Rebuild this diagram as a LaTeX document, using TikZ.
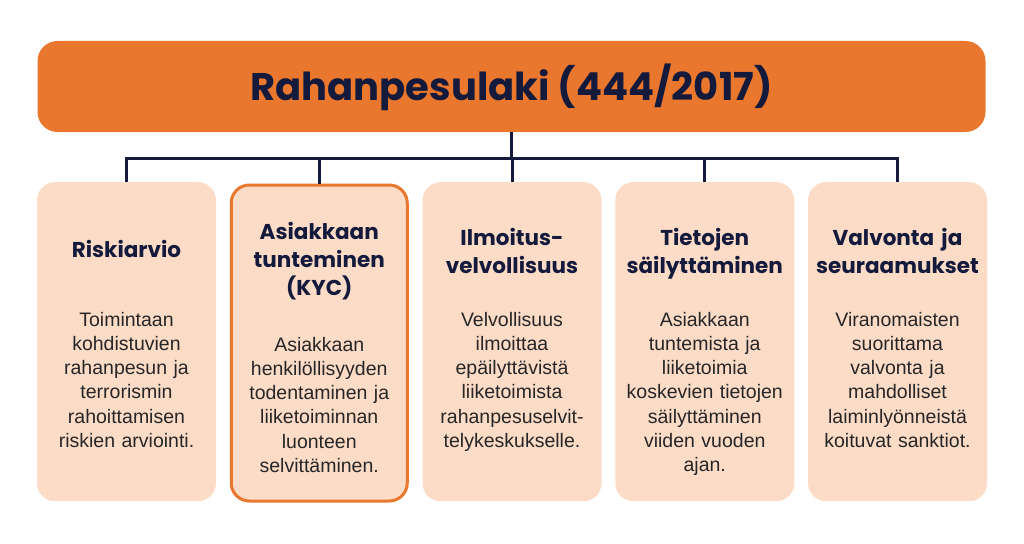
\documentclass[tikz,border=0pt]{standalone}
\usepackage{fontspec}
\setmainfont{Liberation Sans}
\newfontfamily\headfont{Poppins}
\usetikzlibrary{calc}
\usepackage{xcolor}

\definecolor{lawOrange}{HTML}{E9772E}
\definecolor{boxPeach}{HTML}{FCDCC7}
\definecolor{lineNavy}{HTML}{141A3C}
\definecolor{bodyGray}{HTML}{262626}

\tikzset{
  titlebox/.style={rectangle, rounded corners=20pt, fill=lawOrange, minimum width=948pt, minimum height=91pt, inner sep=0pt, text height=28pt, text depth=0pt, text=lineNavy, font=\headfont\bfseries\fontsize{38.5}{46}\selectfont},
  pillarbox/.style={rectangle, rounded corners=18pt, fill=boxPeach, minimum width=179pt, minimum height=319pt, inner sep=0pt, anchor=north},
  pillarhead/.style={anchor=north, text width=176pt, align=center, inner sep=0pt, text=lineNavy, font=\headfont\bfseries\fontsize{21.5}{28}\selectfont, execute at begin node=\strut},
  pillarbody/.style={anchor=north, text width=176pt, align=center, inner sep=0pt, text=bodyGray, font=\fontsize{19.5}{24.2}\selectfont, execute at begin node=\strut},
  link/.style={line width=3pt, draw=lineNavy}
}

\begin{document}
\begin{tikzpicture}[x=1pt, y=-1pt]
\pgfmathsetmacro{\firstx}{126.5}
\pgfmathsetmacro{\pitch}{192.75}
\pgfmathsetmacro{\boxtop}{182}

\useasboundingbox (0,0) rectangle (1024,543);

\node[titlebox] (law) at (511.5,86.5) {Rahanpesulaki (444/2017)};
\coordinate (bus) at (law.south |- 0,158);

\node[pillarbox] (risk) at (\firstx, \boxtop) {};
\node[pillarbox, draw=lawOrange, line width=3pt, minimum width=176pt, minimum height=316pt] (kyc) at (\firstx+\pitch, \boxtop+1.5) {};
\node[pillarbox] (report) at (\firstx+2*\pitch, \boxtop) {};
\node[pillarbox] (records) at (\firstx+3*\pitch, \boxtop) {};
\node[pillarbox] (oversight) at (\firstx+4*\pitch, \boxtop) {};

\draw[link] (law.south) -- (bus);
\foreach \pillar in {risk,kyc,report,records,oversight}
  \draw[link] (\pillar.north) |- (bus);

\node[pillarhead] (riskhead) at ($(risk.north)+(0,55.4)$) {Riskiarvio};
\node[pillarhead] (kychead) at ($(kyc.north)+(0,35.9)$) {Asiakkaan\\tunteminen\\(KYC)};
\node[pillarhead] (reporthead) at ($(report.north)+(0,43.4)$) {Ilmoitus-\\velvollisuus};
\node[pillarhead] (recordshead) at ($(records.north)+(0,43.4)$) {Tietojen\\säilyttäminen};
\node[pillarhead] (oversighthead) at ($(oversight.north)+(0,43.4)$) {Valvonta ja\\seuraamukset};

\node[pillarbody] (riskbody) at ($(risk.north)+(0,127.1)$) {Toimintaan\\kohdistuvien\\rahanpesun ja\\terrorismin\\rahoittamisen\\riskien arviointi.};
\node[pillarbody] (kycbody) at ($(kyc.north)+(0,150.6)$) {Asiakkaan\\henkilöllisyyden\\todentaminen ja\\liiketoiminnan\\luonteen\\selvittäminen.};
\node[pillarbody] (reportbody) at ($(report.north)+(0,127.1)$) {Velvollisuus\\ilmoittaa\\epäilyttävistä\\liiketoimista\\rahanpesuselvit-\\telykeskukselle.};
\node[pillarbody] (recordsbody) at ($(records.north)+(0,127.1)$) {Asiakkaan\\tuntemista ja\\liiketoimia\\koskevien tietojen\\säilyttäminen\\viiden vuoden\\ajan.};
\node[pillarbody] (oversightbody) at ($(oversight.north)+(0,127.1)$) {Viranomaisten\\suorittama\\valvonta ja\\mahdolliset\\laiminlyönneistä\\koituvat sanktiot.};
\end{tikzpicture}
\end{document}
